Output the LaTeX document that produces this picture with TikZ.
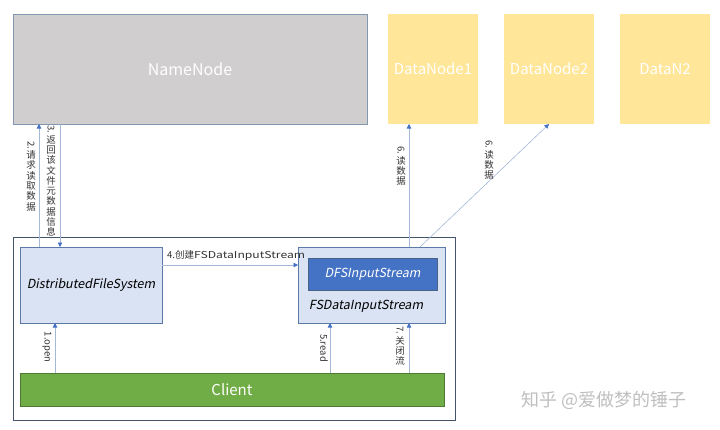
\documentclass[tikz,border=0pt]{standalone}
\usepackage{fontspec}
\usepackage{graphicx}
\setmainfont{Noto Sans CJK SC}[AutoFakeSlant=0.2]
\usetikzlibrary{arrows.meta}
\definecolor{nngray}{HTML}{D0CECE}
\definecolor{nnborder}{HTML}{8497B0}
\definecolor{dnfill}{HTML}{FFE699}
\definecolor{lightblue}{HTML}{DAE3F3}
\definecolor{boxborder}{HTML}{5B7AA8}
\definecolor{dfsblue}{HTML}{4472C4}
\definecolor{clientgreen}{HTML}{70AD47}
\definecolor{outerborder}{HTML}{44546A}
\definecolor{linec}{HTML}{A5B8D8}
\definecolor{headc}{HTML}{4472C4}
\newcommand{\rl}[1]{\rotatebox[origin=c]{-90}{#1}}
\begin{document}
\begin{tikzpicture}[x=1pt,y=-1pt,
  box/.style={anchor=north west,inner sep=0pt,outer sep=0pt},
  arr/.style={draw=linec,line width=0.6pt,-{Triangle[width=4.5pt,length=4.5pt,fill=headc,color=headc]}},
  lbl/.style={font=\fontsize{9.5}{10.3}\selectfont,text=black!80,inner sep=0pt,align=center}]
\useasboundingbox (0,0) rectangle (720,429);
% top row
\node[box,fill=nngray,draw=nnborder,line width=0.8pt,minimum width=354pt,minimum height=110pt,text=white,font=\fontsize{16}{18}\selectfont] (nn) at (13,14) {NameNode};
\node[box,fill=dnfill,minimum width=90pt,minimum height=110pt,text=white,font=\fontsize{15}{18}\selectfont] (dn1) at (388,14) {DataNode1};
\node[box,fill=dnfill,minimum width=90pt,minimum height=110pt,text=white,font=\fontsize{15}{18}\selectfont] (dn2) at (504,14) {DataNode2};
\node[box,fill=dnfill,minimum width=90pt,minimum height=110pt,text=white,font=\fontsize{15}{18}\selectfont] (dn3) at (620,14) {DataN2};
% outer frame
\node[box,draw=outerborder,line width=0.8pt,minimum width=442pt,minimum height=183pt] (outer) at (13,237) {};
% inner boxes
\node[box,fill=lightblue,draw=boxborder,line width=0.8pt,minimum width=142pt,minimum height=76pt,font=\fontsize{12.5}{14}\selectfont\itshape] (dfs) at (20,247) {DistributedFileSystem};
\node[box,fill=lightblue,draw=boxborder,line width=0.8pt,minimum width=147pt,minimum height=76pt] (fsd) at (298,247) {};
\node[box,fill=dfsblue,draw=boxborder!80!black,line width=0.6pt,minimum width=129pt,minimum height=32pt,text=white,font=\fontsize{12.5}{15}\selectfont\itshape] (dfsis) at (308,258) {DFSInputStream};
\node[font=\fontsize{12.5}{15}\selectfont\itshape,inner sep=0pt] (fsdtxt) at (366,306) {FSDataInputStream};
\node[box,fill=clientgreen,draw=clientgreen!70!black,line width=0.4pt,minimum width=424pt,minimum height=33pt,text=white,font=\fontsize{15}{18}\selectfont] (client) at (20,373) {Client};
% arrows NameNode
\draw[arr] ([xshift=19pt]dfs.north west) -- ([xshift=19pt]dfs.north west |- nn.south);
\draw[arr] ([xshift=40pt]dfs.north west |- nn.south) -- ([xshift=40pt]dfs.north west);
\node[lbl] (l2) at (31,176) {\rl{2.}\\请\\求\\读\\取\\数\\据};
\node[lbl] (l3) at (51,181) {\rl{3.}\\返\\回\\该\\文\\件\\元\\数\\据\\信\\息};
% arrow 4
\draw[arr] ([yshift=-18pt]dfs.north east) -- ([yshift=-18pt]fsd.north west);
\node[font=\fontsize{9.5}{10}\selectfont,text=black!80,anchor=south west,inner sep=0pt] (l4) at (167,261) {4.创建\scalebox{1.28}[1]{FSDataInputStream}};
% arrows 6
\draw[arr] ([xshift=111pt]fsd.north west) -- ([xshift=111pt]fsd.north west |- dn1.south);
\draw[arr] ([xshift=122pt]fsd.north west) -- (dn2.south);
\node[lbl] (l6a) at (401,166) {\rl{6.}\\读\\数\\据};
\node[lbl] (l6b) at (489,160) {\rl{6.}\\读\\数\\据};
% client arrows
\draw[arr] ([xshift=35pt]client.north west) -- ([xshift=35pt]client.north west |- dfs.south);
\draw[arr] ([xshift=310pt]client.north west) -- ([xshift=310pt]client.north west |- fsd.south);
\draw[arr] ([xshift=389pt]client.north west) -- ([xshift=389pt]client.north west |- fsd.south);
\node[lbl] (l1) at (47,347) {\rl{1.open}};
\node[lbl] (l5) at (324,348) {\rl{5.read}};
\node[lbl] (l7) at (400,346) {\rl{7.}\\关\\闭\\流};
% watermark
\node[font=\fontsize{18}{20}\selectfont,text=black!25,inner sep=0pt] (wm) at (604,400) {知乎 @爱做梦的锤子};
\end{tikzpicture}
\end{document}
